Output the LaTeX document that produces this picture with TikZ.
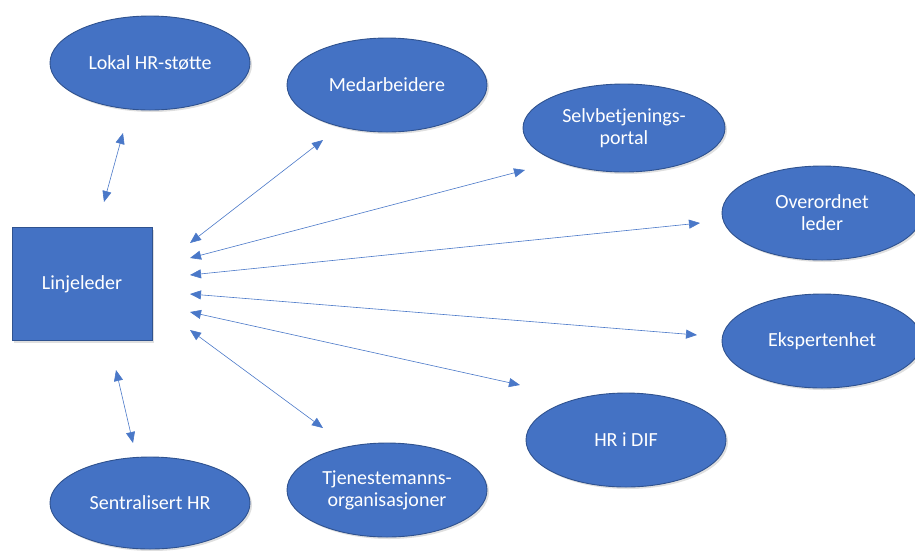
\documentclass[tikz,border=0pt]{standalone}
\usepackage{fontspec}
\setmainfont{Carlito}
\usepackage{xcolor}
\usetikzlibrary{shapes.geometric,arrows.meta,shadows}

\definecolor{boxblue}{HTML}{4472C4}
\definecolor{edgeblue}{HTML}{2F528F}
\definecolor{linkblue}{HTML}{4A78C8}

\tikzset{
	unit/.style={draw=edgeblue, line width=0.9pt, fill=boxblue, text=white,
		drop shadow={opacity=0.25, shadow xshift=2pt, shadow yshift=-2pt},
		font=\fontsize{20}{22}\selectfont, align=center, inner sep=0pt},
	role/.style={unit, ellipse, minimum width=200pt, minimum height=94pt},
	link/.style={draw=linkblue, line width=0.6pt,
		{Triangle[length=11pt,width=9pt]}-{Triangle[length=11pt,width=9pt]}}
}

\begin{document}
\begin{tikzpicture}[x=1pt,y=-1pt]
	\useasboundingbox (0,0) rectangle (915,550);

	% the line manager in the middle of it all
	\node[unit, minimum width=140pt, minimum height=113pt] (leder) at (82,284) {Linjeleder};

	\node[role] (lokal) at (150,63) {Lokal HR-støtte};
	\node[role] (medarb) at (387,85) {Medarbeidere};
	\node[role, minimum width=202pt, minimum height=88pt] (portal) at (624,128) {Selvbetjenings-\\portal};
	\node[role] (overordnet) at (822,213) {Overordnet\\leder};
	\node[role] (ekspert) at (822,341) {Ekspertenhet};
	\node[role] (hrdif) at (626,440) {HR i DIF};
	\node[role] (tjeneste) at (387,490) {Tjenestemanns-\\organisasjoner};
	\node[role, minimum height=92pt] (sentral) at (150,503) {Sentralisert HR};

	% arrow ends, left side
	\coordinate (l1) at (104,202);
	\coordinate (l2) at (116,370);
	\coordinate (m1) at (190,243);
	\coordinate (m2) at (190,258);
	\coordinate (m3) at (190,275);
	\coordinate (m4) at (190,294);
	\coordinate (m5) at (190,312);
	\coordinate (m6) at (190,330);
	% arrow ends, far side
	\coordinate (lokalpt) at (123,133);
	\coordinate (sentralpt) at (133,443);
	\coordinate (medarbpt) at (323,140);
	\coordinate (portalpt) at (525,170);
	\coordinate (overordnetpt) at (700,223);
	\coordinate (ekspertpt) at (697,335);
	\coordinate (hrdifpt) at (520,385);
	\coordinate (tjenestept) at (323,428);

	\draw[link] (l1) -- (lokalpt);
	\draw[link] (l2) -- (sentralpt);
	\draw[link] (m1) -- (medarbpt);
	\draw[link] (m2) -- (portalpt);
	\draw[link] (m3) -- (overordnetpt);
	\draw[link] (m4) -- (ekspertpt);
	\draw[link] (m5) -- (hrdifpt);
	\draw[link] (m6) -- (tjenestept);
\end{tikzpicture}
\end{document}
